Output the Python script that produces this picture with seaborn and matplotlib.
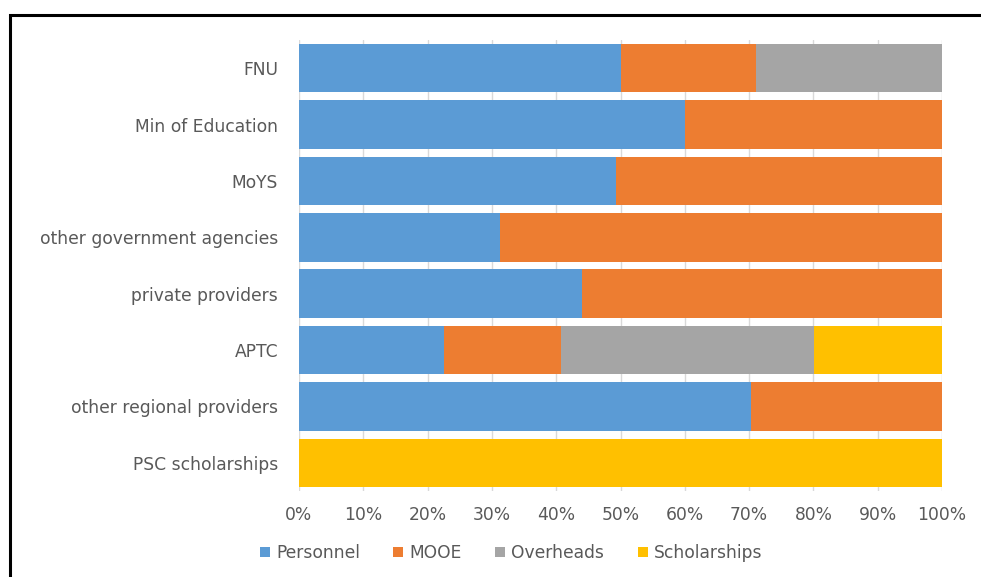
import matplotlib
matplotlib.use("Agg")
import matplotlib.pyplot as plt
from matplotlib.patches import Rectangle, Patch
import seaborn as sns
import pandas as pd

categories = ["FNU", "Min of Education", "MoYS", "other government agencies",
              "private providers", "APTC", "other regional providers", "PSC scholarships"]
personnel = [50.0, 60.0, 49.3, 31.3, 44.0, 22.5, 70.3, 0.0]
mooe = [21.0, 40.0, 50.7, 68.7, 56.0, 18.2, 29.7, 0.0]
overheads = [29.0, 0.0, 0.0, 0.0, 0.0, 39.4, 0.0, 0.0]
scholarships = [0.0, 0.0, 0.0, 0.0, 0.0, 19.9, 0.0, 100.0]
series_names = ["Personnel", "MOOE", "Overheads", "Scholarships"]
colors = ["#5B9BD5", "#ED7D31", "#A5A5A5", "#FFC000"]
tick_labels = [f"{v}%" for v in range(0, 101, 10)]

sns.set_theme(style="white")
plt.rcParams["font.family"] = ["DejaVu Sans"]
text_color = "#595959"
fsize = 12.3

df = pd.DataFrame({"category": categories, "Personnel": personnel, "MOOE": mooe,
                   "Overheads": overheads, "Scholarships": scholarships})
cum = df[series_names].cumsum(axis=1)

fig = plt.figure(figsize=(9.81, 5.77), dpi=100)
ax = fig.add_axes([299 / 981, 1 - 491 / 577, (942 - 299) / 981, (491 - 40) / 577])

# vertical gridlines behind the bars
for v in range(0, 101, 10):
    ax.axvline(v, color="#D9D9D9", lw=1.0, zorder=0)

# stacked bars: draw cumulative totals from the last series to the first
for name, col in reversed(list(zip(series_names, colors))):
    sns.barplot(x=cum[name], y=df["category"], color=col, width=0.86,
                orient="h", ax=ax, zorder=2, linewidth=0, saturation=1)

ax.set_xlim(0, 100)
ax.set_ylim(7.5, -0.5)
ax.set_xticks(range(0, 101, 10))
ax.set_xticklabels(tick_labels)
ax.set_xlabel("")
ax.set_ylabel("")
for s in ax.spines.values():
    s.set_visible(False)
ax.tick_params(axis="both", length=0, labelsize=fsize, colors=text_color)
ax.tick_params(axis="y", pad=15)
ax.tick_params(axis="x", pad=11)

handles = [Patch(facecolor=c, edgecolor="none") for c in colors]
fig.legend(handles, series_names, loc="center", bbox_to_anchor=(511 / 981, 1 - 553 / 577),
           ncol=4, frameon=False, fontsize=fsize, handlelength=0.6, handleheight=0.6,
           handletextpad=0.35, columnspacing=1.95, labelcolor=text_color)

# outer frame of the chart area
fig.patches.append(Rectangle((9.5 / 981, -0.1), 1.2, 1 - 14.5 / 577 + 0.1,
                             transform=fig.transFigure, fill=False,
                             edgecolor="black", lw=2.2))

fig.savefig("out.png", dpi=100)
